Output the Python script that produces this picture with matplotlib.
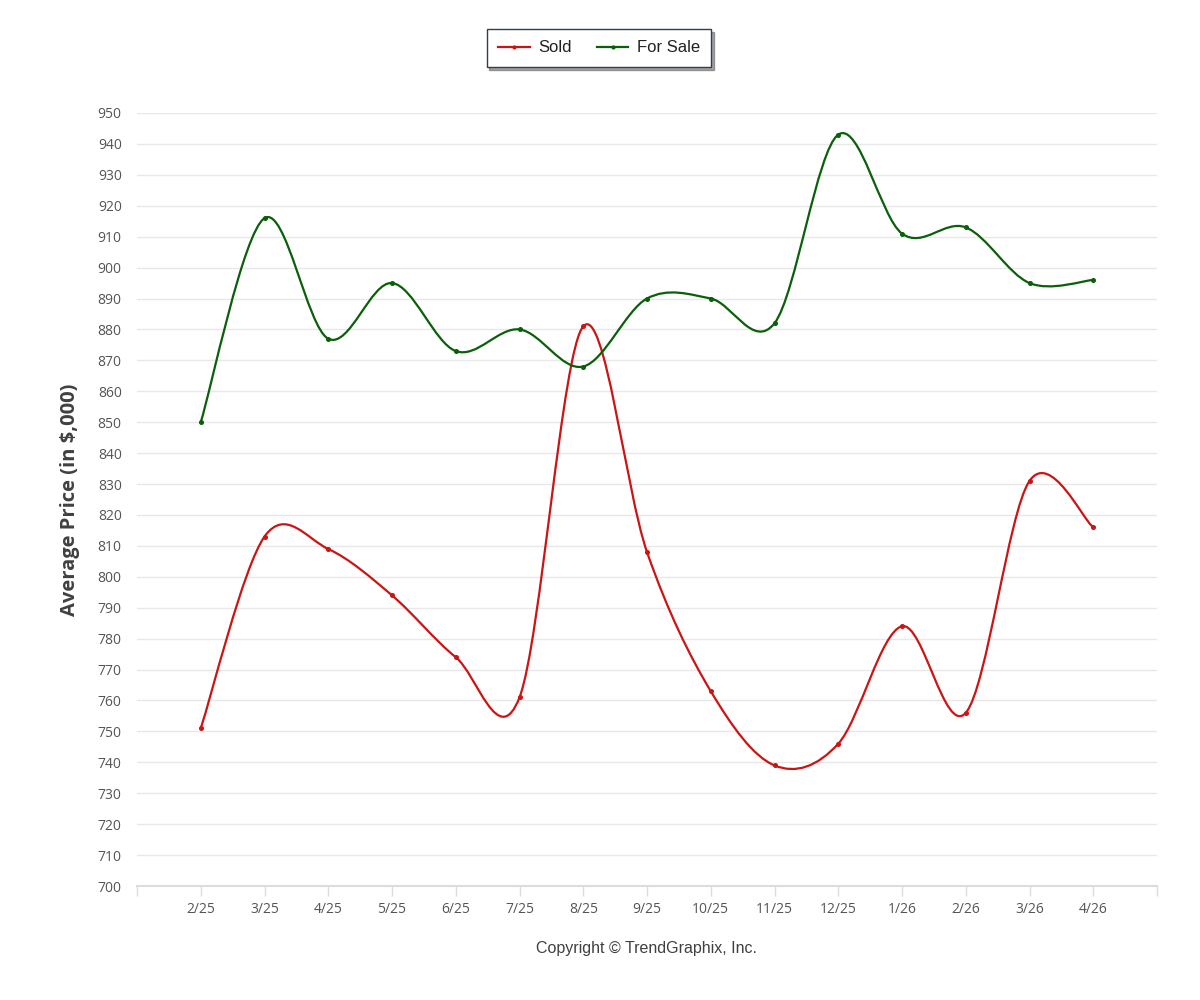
import numpy as np
import matplotlib
matplotlib.use("Agg")
import matplotlib.pyplot as plt
from matplotlib.path import Path
from matplotlib.patches import PathPatch
from matplotlib.lines import Line2D

months = ["2/25", "3/25", "4/25", "5/25", "6/25", "7/25", "8/25", "9/25",
          "10/25", "11/25", "12/25", "1/26", "2/26", "3/26", "4/26"]
sold = [751, 813, 809, 794, 774, 761, 881, 808, 763, 739, 746, 784, 756, 831, 816]
for_sale = [850, 916, 877, 895, 873, 880, 868, 890, 890, 882, 943, 911, 913, 895, 896]

SOLD_COLOR = "#cc1414"
SALE_COLOR = "#0b5f0b"


def spline_path(xs, ys):
    # Catmull-Rom curve through the points, drawn as cubic Bezier segments
    pts = np.column_stack([xs, ys]).astype(float)
    n = len(pts)
    verts = [pts[0]]
    codes = [Path.MOVETO]
    for i in range(n - 1):
        p0 = pts[i - 1] if i > 0 else pts[i]
        p1 = pts[i]
        p2 = pts[i + 1]
        p3 = pts[i + 2] if i + 2 < n else pts[i + 1]
        c1 = p1 + (p2 - p0) / 6.0
        c2 = p2 - (p3 - p1) / 6.0
        verts += [c1, c2, p2]
        codes += [Path.CURVE4] * 3
    return Path(verts, codes)


fig = plt.figure(figsize=(12, 10), dpi=100)
ax = fig.add_axes([137 / 1200, 114 / 1000, 1020 / 1200, 773 / 1000])

x = np.arange(len(months))
for vals, col in [(sold, SOLD_COLOR), (for_sale, SALE_COLOR)]:
    ax.add_patch(PathPatch(spline_path(x, vals), facecolor="none",
                           edgecolor=col, lw=1.6, zorder=3))
    ax.plot(x, vals, linestyle="none", marker="o", markersize=2.6,
            color=col, zorder=4)

ax.set_xlim(-1, len(months))
ax.set_ylim(700, 950)
ax.set_yticks(np.arange(700, 951, 10))
ax.set_xticks(x)
ax.set_xticklabels(months)
ax.set_xticks([-1, len(months)], minor=True)

ax.yaxis.grid(True, color="#e8e8e8", lw=1)
ax.set_axisbelow(True)
for s in ["top", "right", "left"]:
    ax.spines[s].set_visible(False)
ax.spines["bottom"].set_color("#dcdcdc")
ax.spines["bottom"].set_linewidth(1.5)

ax.tick_params(axis="y", length=0, pad=11, labelsize=10, labelcolor="#555555")
ax.tick_params(axis="x", which="both", direction="out", length=7.5,
               color="#dcdcdc", width=1, pad=4, labelsize=10, labelcolor="#555555")
for lab in ax.get_xticklabels() + ax.get_yticklabels():
    lab.set_family("Open Sans")

ax.set_ylabel("Average Price (in $,000)", fontsize=14.5, fontweight="bold",
              color="#404040", family="Open Sans", labelpad=13)

handles = [Line2D([], [], color=SOLD_COLOR, lw=1.6, marker="o", markersize=2),
           Line2D([], [], color=SALE_COLOR, lw=1.6, marker="o", markersize=2)]
leg = fig.legend(handles, ["Sold", "For Sale"], loc="center",
                 bbox_to_anchor=(599 / 1200, 1 - 48 / 1000), ncol=2,
                 frameon=True, fancybox=False, shadow=True,
                 prop={"family": "Liberation Sans", "size": 12},
                 handlelength=1.9, handletextpad=0.5, columnspacing=1.5,
                 borderpad=0.7)
leg.get_frame().set_edgecolor("#2d3e50")
leg.get_frame().set_linewidth(1)
for t in leg.get_texts():
    t.set_color("#222222")

fig.text(647 / 1200, 1 - 949 / 1000, "Copyright \u00a9 TrendGraphix, Inc.",
         ha="center", va="center", fontsize=11.5, color="#404040",
         family="Liberation Sans")

fig.savefig("out.png", dpi=100, facecolor="white")
